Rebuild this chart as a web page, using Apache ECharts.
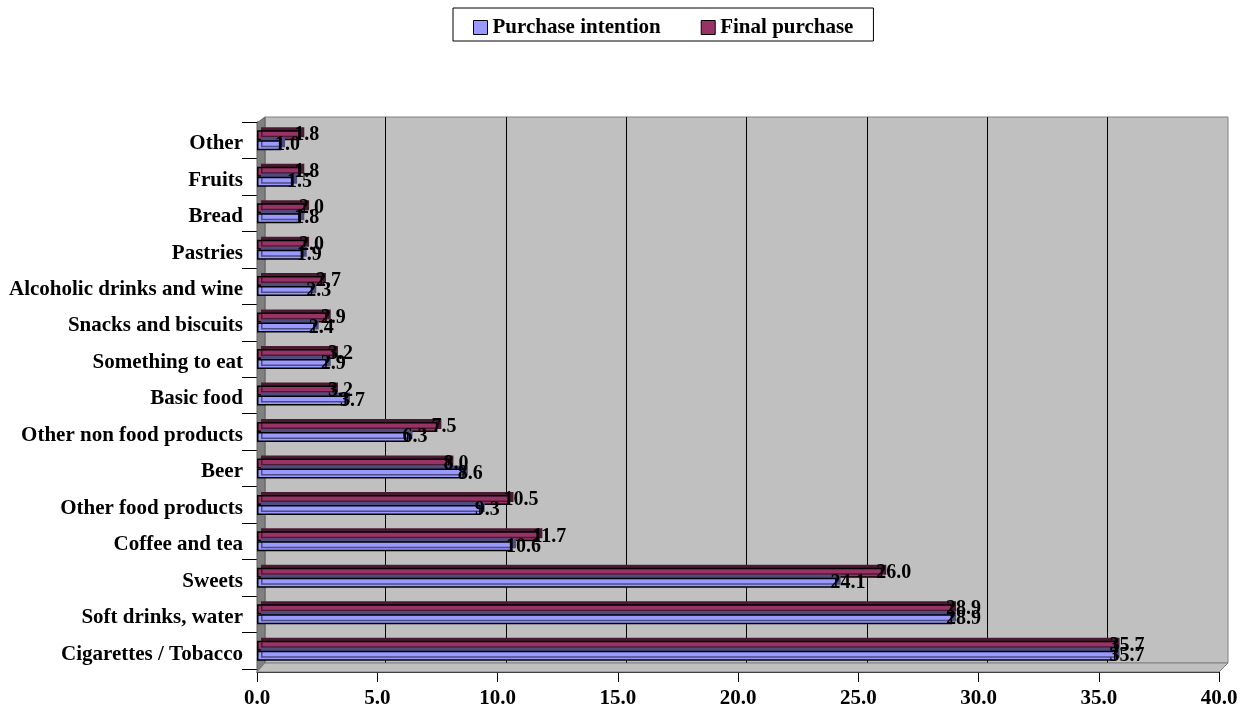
<!DOCTYPE html>
<html>
<head>
<meta charset="utf-8">
<script src="https://cdn.jsdelivr.net/npm/echarts@6/dist/echarts.min.js"></script>
<style>
  html, body { margin: 0; padding: 0; background: #fff; }
  #main1 { width: 1249px; height: 713px; }
</style>
</head>
<body>
<div id="main1"></div>
<script>
// categories, top to bottom
var categories = ['Other', 'Fruits', 'Bread', 'Pastries', 'Alcoholic drinks and wine',
	'Snacks and biscuits', 'Something to eat', 'Basic food', 'Other non food products',
	'Beer', 'Other food products', 'Coffee and tea', 'Sweets', 'Soft drinks, water',
	'Cigarettes / Tobacco'];
var intention = [1.0, 1.5, 1.8, 1.9, 2.3, 2.4, 2.9, 3.7, 6.3, 8.6, 9.3, 10.6, 24.1, 28.9, 35.7];
var finalPurchase = [1.8, 1.8, 2.0, 2.0, 2.7, 2.9, 3.2, 3.2, 7.5, 8.0, 10.5, 11.7, 26.0, 28.9, 35.7];
var xTicks = [0, 40, 5]; // min, max, interval

var font = 'Liberation Serif, Times New Roman, serif';
var myChart = echarts.init(document.getElementById('main1'));

function barLabel() {
	return {
		show: true,
		position: 'right',
		offset: [-11, 0],
		color: '#000',
		fontFamily: font,
		fontWeight: 'bold',
		fontSize: 20,
		formatter: function (p) { return p.value.toFixed(1); }
	};
}

var option = {
	animation: false,
	legend: {
		data: ['Purchase intention', 'Final purchase'],
		left: 453,
		top: 8,
		padding: [9, 20, 3, 20],
		itemGap: 40,
		itemWidth: 14,
		itemHeight: 14,
		icon: 'rect',
		backgroundColor: '#fff',
		borderColor: '#000',
		borderWidth: 1,
		itemStyle: { borderColor: '#000', borderWidth: 1, shadowColor: 'rgba(0,0,0,0)' },
		textStyle: { fontFamily: font, fontWeight: 'bold', fontSize: 21, color: '#000' }
	},
	grid: [
		{ left: 257, right: 30, top: 122, bottom: 44 },
		{ left: 265, right: 21, top: 117, bottom: 50, show: true, z: 0,
		  backgroundColor: '#c0c0c0', borderColor: '#808080', borderWidth: 1 }
	],
	graphic: [
		{ type: 'polygon', z: 1, shape: { points: [[257, 123], [265, 117], [265, 663], [257, 672]] },
		  style: { fill: '#808080', stroke: '#606060', lineWidth: 1 } },
		{ type: 'polygon', z: 1, shape: { points: [[257, 672], [265, 663], [1228, 663], [1219, 672]] },
		  style: { fill: '#c0c0c0', stroke: '#808080', lineWidth: 1 } }
	],
	xAxis: [{
		gridIndex: 0,
		type: 'value',
		min: xTicks[0], max: xTicks[1], interval: xTicks[2],
		offset: 3,
		axisLine: { show: true, lineStyle: { color: '#000', width: 1 } },
		axisTick: { show: true, length: 10, lineStyle: { color: '#000' } },
		axisLabel: { margin: 16, color: '#000', fontFamily: font, fontWeight: 'bold', fontSize: 21,
			formatter: function (v) { return v.toFixed(1); } },
		splitLine: { show: false }
	}, {
		gridIndex: 1,
		type: 'value',
		min: xTicks[0], max: xTicks[1], interval: xTicks[2],
		axisLine: { show: false }, axisTick: { show: false }, axisLabel: { show: false },
		splitLine: { show: true, showMinLine: false, showMaxLine: false, lineStyle: { color: '#000', width: 1 } }
	}],
	yAxis: [{
		gridIndex: 0,
		type: 'category',
		inverse: true,
		data: categories,
		axisLine: { show: true, lineStyle: { color: '#000', width: 1 } },
		axisTick: { show: true, length: 15, lineStyle: { color: '#000' } },
		axisLabel: {
			margin: 14,
			formatter: function (v) { return '{a|' + v + '}'; },
			rich: {
				a: { padding: [7, 0, 0, 0], color: '#000', fontFamily: font, fontWeight: 'bold', fontSize: 21 }
			}
		}
	}, {
		gridIndex: 1,
		type: 'value',
		show: false
	}],
	series: [{
		name: 'Final purchase',
		type: 'bar',
		xAxisIndex: 0, yAxisIndex: 0,
		barWidth: 10,
		barGap: '0%',
		z: 3,
		data: finalPurchase,
		itemStyle: { color: '#993366', borderColor: '#000', borderWidth: 1.5,
			shadowColor: '#4a1a33', shadowBlur: 0, shadowOffsetX: 4, shadowOffsetY: -3 },
		label: barLabel()
	}, {
		name: 'Purchase intention',
		type: 'bar',
		xAxisIndex: 0, yAxisIndex: 0,
		barWidth: 10,
		barGap: '0%',
		z: 3,
		data: intention,
		itemStyle: { color: '#9999ff', borderColor: '#000', borderWidth: 1.5,
			shadowColor: '#4d4d80', shadowBlur: 0, shadowOffsetX: 4, shadowOffsetY: -3 },
		label: barLabel()
	}]
};

myChart.setOption(option);
</script>
</body>
</html>
